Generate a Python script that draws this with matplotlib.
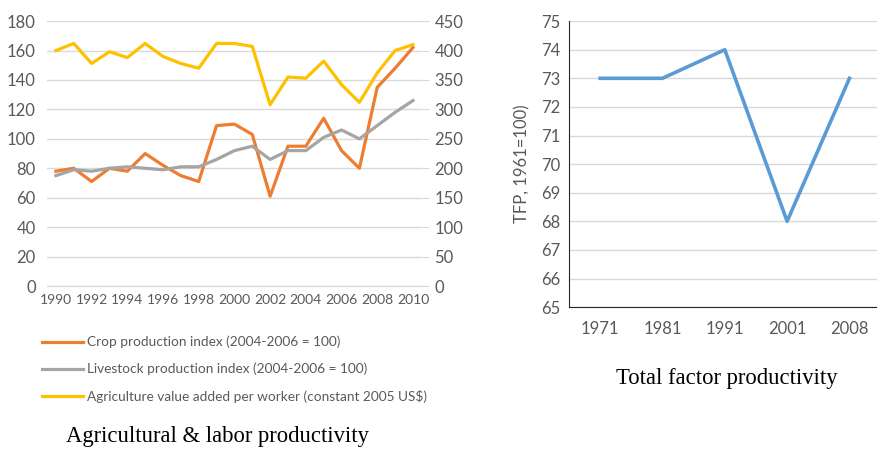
import numpy as np
import matplotlib
matplotlib.use('Agg')
import matplotlib.pyplot as plt

plt.rcParams['font.family'] = ['Lato', 'DejaVu Sans']

# Left panel data
years = list(range(1990, 2011))
crop = [78, 80, 71, 80, 78, 90, 82, 75, 71, 109, 110, 103, 61, 95, 95, 114, 92, 80, 135, 148, 162]
livestock = [75, 79, 78, 80, 81, 80, 79, 81, 81, 86, 92, 95, 86, 92, 92, 101, 106, 100, 109, 118, 126]
value_added = [400, 412, 378, 398, 388, 412, 390, 378, 370, 412, 412, 407, 308, 355, 353, 382, 342, 312, 362, 400, 410]

# Right panel data
tfp_years = ['1971', '1981', '1991', '2001', '2008']
tfp = [73, 73, 74, 68, 73]

c_crop = '#ED7D31'
c_live = '#A5A5A5'
c_val = '#FFC000'
c_tfp = '#5B9BD5'
txt = '#595959'
grid = '#D9D9D9'

fig = plt.figure(figsize=(8.78, 4.49), dpi=100)

# ---- left chart ----
ax = fig.add_axes([0.0535, 0.363, 0.427, 0.590])
ax2 = ax.twinx()
x = np.arange(len(years))
l1, = ax.plot(x, crop, color=c_crop, lw=2.3)
l2, = ax.plot(x, livestock, color=c_live, lw=2.3)
l3, = ax2.plot(x, value_added, color=c_val, lw=2.3)

ax.set_xlim(-0.5, len(years) - 0.5)
ax.set_ylim(0, 180)
ax.set_yticks(range(0, 181, 20))
ax2.set_ylim(0, 450)
ax2.set_yticks(range(0, 451, 50))
ax.set_xticks(x[::2])
ax.set_xticklabels([str(y) for y in years[::2]])
ax.yaxis.grid(True, color=grid, lw=1)
ax.set_axisbelow(True)
for a in (ax, ax2):
    for s in a.spines.values():
        s.set_visible(False)
ax.spines['bottom'].set_visible(True)
ax.spines['bottom'].set_color(grid)
ax.tick_params(axis='y', length=0, labelsize=12, labelcolor=txt, pad=8)
ax.tick_params(axis='x', length=0, labelsize=10, labelcolor=txt, pad=6)
ax2.tick_params(axis='y', length=5, color=grid, labelsize=12, labelcolor=txt, pad=4)

fig.legend([l1, l2, l3],
           ['Crop production index (2004-2006 = 100)',
            'Livestock production index (2004-2006 = 100)',
            'Agriculture value added per worker (constant 2005 US$)'],
           loc='upper left', bbox_to_anchor=(0.042, 0.264), frameon=False,
           fontsize=9.8, labelcolor=txt, handlelength=3.0, handletextpad=0.3,
           labelspacing=1.05, borderaxespad=0)

fig.text(0.248, 0.027, 'Agricultural & labor productivity', family='Liberation Serif',
         fontsize=16.3, ha='center', va='center', color='black')

# ---- right chart ----
bx = fig.add_axes([0.648, 0.316, 0.355, 0.637])
xt = np.arange(len(tfp_years))
bx.plot(xt, tfp, color=c_tfp, lw=2.6)
bx.set_xlim(-0.5, len(tfp_years) - 0.5)
bx.set_ylim(65, 75)
bx.set_yticks(range(65, 76))
bx.set_xticks(xt)
bx.set_xticklabels(tfp_years)
bx.yaxis.grid(True, color=grid, lw=1)
bx.set_axisbelow(True)
bx.spines['top'].set_visible(False)
bx.spines['right'].set_visible(False)
bx.spines['left'].set_color('#262626')
bx.spines['bottom'].set_color('#262626')
bx.tick_params(axis='both', length=0, labelsize=12, labelcolor=txt)
bx.tick_params(axis='y', pad=6)
bx.tick_params(axis='x', pad=10)
bx.set_ylabel('TFP, 1961=100)', fontsize=12, color=txt, labelpad=8)

fig.text(0.828, 0.158, 'Total factor productivity', family='Liberation Serif',
         fontsize=16.3, ha='center', va='center', color='black')

fig.savefig('out.png', dpi=100)
